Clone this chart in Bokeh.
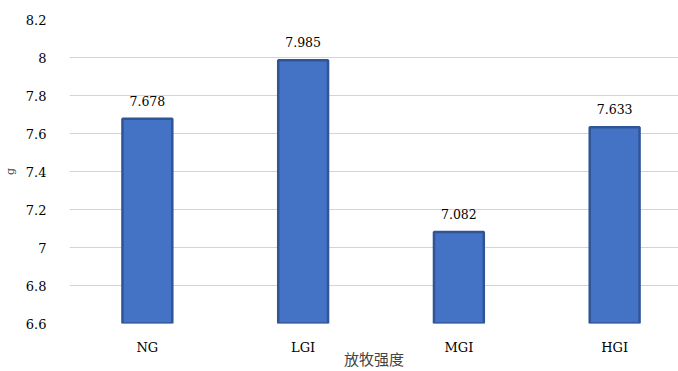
from bokeh.plotting import figure
from bokeh.models import Range1d, FixedTicker, CustomJSTickFormatter, ColumnDataSource
from bokeh.core.properties import value
from bokeh.embed import file_html
from bokeh.resources import INLINE

# Grazing intensity groups and their mean values
categories = ["NG", "LGI", "MGI", "HGI"]
values = [7.678, 7.985, 7.082, 7.633]
y_ticks = [6.6, 6.8, 7.0, 7.2, 7.4, 7.6, 7.8, 8.0, 8.2]

SERIF = "DejaVu Serif"

idx = list(range(len(categories)))
src = ColumnDataSource(dict(
    x=idx,
    top=values,
    label=[f"{v:.3f}" for v in values],
))

p = figure(
    width=678, height=371,
    x_range=Range1d(-0.5, 3.41),
    y_range=Range1d(6.6, 8.2),
    output_backend="svg",
    toolbar_location=None,
    min_border_left=67, min_border_right=0,
    min_border_top=19, min_border_bottom=0,
)
p.outline_line_color = None
p.background_fill_color = "white"
p.border_fill_color = "white"

p.vbar(x="x", top="top", bottom=6.6, width=0.32, source=src,
       fill_color="#4472C4", line_color="#2F5597", line_width=2.5)

p.text(x="x", y="top", text="label", source=src,
       text_align="center", text_baseline="middle", y_offset=-18,
       text_font=value(SERIF), text_font_size="12.5px",
       text_color="#000000")

# grid
p.xgrid.grid_line_color = None
p.ygrid.grid_line_color = "#D4D4D4"
p.ygrid.grid_line_width = 1
p.ygrid.ticker = FixedTicker(ticks=y_ticks)

# y axis
p.yaxis.ticker = FixedTicker(ticks=y_ticks)
p.yaxis.formatter = CustomJSTickFormatter(code="return (Math.round(tick*10)/10).toString();")
p.yaxis.axis_line_color = None
p.yaxis.major_tick_line_color = None
p.yaxis.minor_tick_line_color = None
p.yaxis.major_label_text_font = SERIF
p.yaxis.major_label_text_font_size = "13px"
p.yaxis.major_label_text_color = "#000000"
p.yaxis.major_label_standoff = 17
p.yaxis.axis_label = "g"
p.yaxis.axis_label_text_font = SERIF
p.yaxis.axis_label_text_font_size = "11px"
p.yaxis.axis_label_text_font_style = "normal"
p.yaxis.axis_label_standoff = 6

# x axis
p.xaxis.ticker = FixedTicker(ticks=idx)
p.xaxis.major_label_overrides = {i: c for i, c in zip(idx, categories)}
p.xaxis.axis_line_color = None
p.xaxis.major_tick_line_color = None
p.xaxis.minor_tick_line_color = None
p.xaxis.major_label_text_font = SERIF
p.xaxis.major_label_text_font_size = "13px"
p.xaxis.major_label_text_color = "#000000"
p.xaxis.major_label_standoff = 10
p.xaxis.axis_label = "放牧强度"
p.xaxis.axis_label_text_font = "Noto Sans CJK SC"
p.xaxis.axis_label_text_font_size = "15px"
p.xaxis.axis_label_text_font_style = "normal"
p.xaxis.axis_label_standoff = -10

open("out.html", "w").write(file_html(p, INLINE))
